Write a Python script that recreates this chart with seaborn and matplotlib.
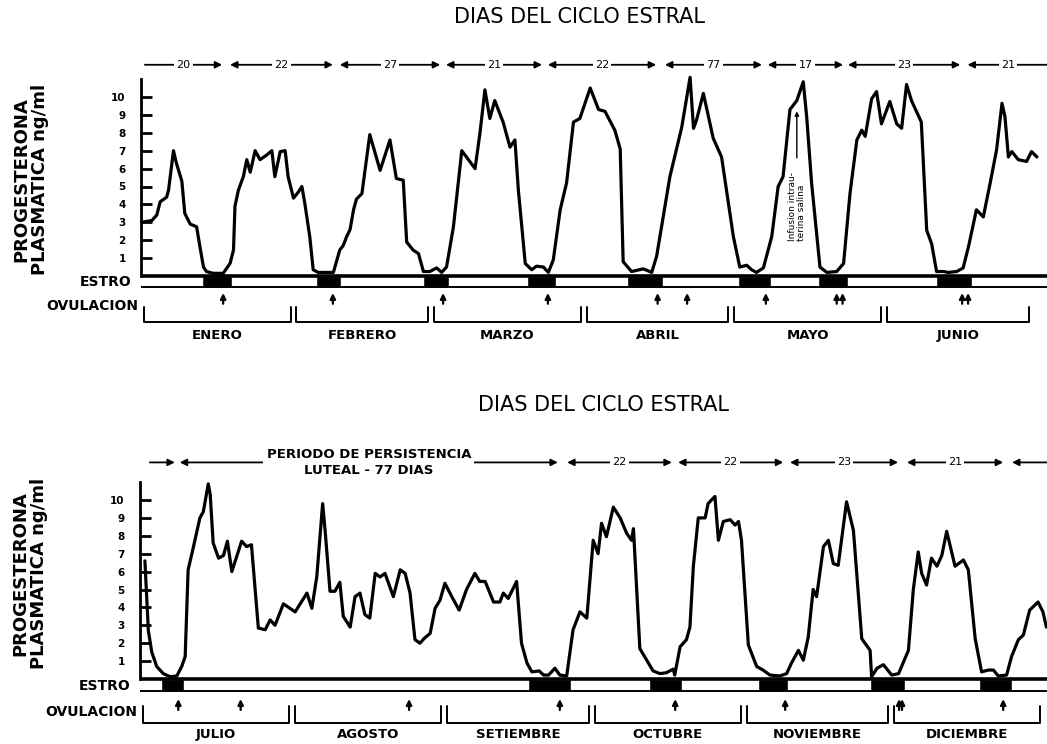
import numpy as np
import pandas as pd
import matplotlib
matplotlib.use("Agg")
import matplotlib.pyplot as plt
import seaborn as sns

# ---------------- data (days counted from 1 Jan / 1 Jul) ----------------
top_days = [0.1, 2.2, 3.2, 3.9, 5.2, 5.6, 6.6, 7.2, 8.3, 8.9, 10.0, 11.3, 12.0, 12.7, 13.3, 14.7,
            16.7, 18.1, 18.8, 19.1, 19.8, 20.8, 21.5, 22.2, 23.2, 24.2, 25.5, 26.6, 27.2, 28.3,
            29.3, 29.9, 31.0, 32.0, 32.7, 33.3, 34.3, 35.0, 36.0, 39.1, 40.4, 41.1, 41.8, 42.5,
            43.2, 43.8, 44.9, 46.5, 48.6, 50.6, 51.9, 53.3, 54.0, 55.3, 56.4, 57.4, 58.7, 60.1,
            61.1, 62.1, 63.5, 65.2, 67.9, 68.9, 69.9, 70.9, 71.9, 73.6, 75.0, 76.0, 76.7, 78.1,
            79.4, 80.4, 81.8, 82.8, 83.8, 85.2, 86.5, 87.9, 89.2, 91.3, 93.0, 94.3, 96.3, 97.4,
            98.0, 99.7, 102.1, 103.8, 104.8, 107.5, 109.9, 111.6, 112.3, 112.9, 114.3, 116.3,
            118.0, 119.0, 120.4, 121.7, 123.1, 124.1, 125.1, 126.5, 128.2, 129.5, 130.5, 131.9,
            133.3, 134.6, 135.3, 136.3, 138.0, 139.4, 141.4, 142.8, 144.1, 145.5, 146.5, 147.2,
            148.5, 149.5, 150.5, 152.2, 153.6, 154.6, 155.6, 156.6, 158.6, 159.7, 160.7, 161.7,
            163.1, 164.1, 165.8, 167.1, 168.2, 169.8, 171.2, 172.6, 173.9, 175.0, 175.6, 176.3,
            177.0, 178.3, 180.0, 181.0, 182.1]
top_prog = [3.0, 3.1, 3.4, 4.15, 4.4, 4.8, 7.0, 6.3, 5.3, 3.5, 2.9, 2.75, 1.6, 0.5, 0.25, 0.15,
            0.15, 0.7, 1.45, 3.9, 4.8, 5.55, 6.5, 5.8, 7.0, 6.5, 6.75, 7.0, 5.55, 6.95,
            7.0, 5.55, 4.35, 4.7, 5.0, 4.05, 2.2, 0.35, 0.2, 0.2, 1.45, 1.7, 2.2, 2.6,
            3.7, 4.3, 4.6, 7.9, 5.9, 7.6, 5.45, 5.35, 1.9, 1.45, 1.25, 0.25, 0.25, 0.45,
            0.2, 0.5, 2.75, 7.0, 6.0, 8.0, 10.4, 8.8, 9.8, 8.6, 7.2, 7.6, 4.8, 0.7,
            0.35, 0.55, 0.5, 0.2, 0.9, 3.7, 5.2, 8.6, 8.8, 10.5, 9.3, 9.2, 8.15, 7.1,
            0.8, 0.25, 0.4, 0.2, 1.1, 5.55, 8.3, 11.1, 8.25, 8.7, 10.2, 7.7,
            6.65, 4.8, 2.2, 0.5, 0.6, 0.35, 0.2, 0.45, 2.2, 5.0, 5.55, 9.3,
            9.8, 10.85, 8.9, 5.2, 0.5, 0.2, 0.25, 0.7, 4.6, 7.6, 8.15, 7.8,
            9.9, 10.3, 8.5, 9.75, 8.5, 8.25, 10.7, 9.8, 8.6, 2.55, 1.8, 0.25,
            0.25, 0.2, 0.25, 0.45, 1.65, 3.7, 3.3, 5.2, 7.05, 9.65, 8.9, 6.65,
            6.95, 6.5, 6.4, 6.95, 6.65]

bot_days = [1.0, 1.7, 2.4, 3.4, 4.75, 6.1, 7.5, 8.5, 9.2, 9.8, 10.9, 12.2, 12.9, 13.9, 14.3, 14.9,
            16.0, 17.0, 17.8, 18.7, 19.7, 20.7, 21.7, 22.7, 24.1, 25.5, 26.5, 27.5, 29.2, 31.6,
            34.0, 35.0, 36.0, 37.2, 37.7, 38.7, 39.7, 40.7, 41.4, 42.8, 43.8, 44.8, 45.8, 46.8,
            47.9, 48.9, 49.9, 51.6, 52.3, 53.0, 54.0, 55.0, 56.0, 57.0, 58.0, 59.1, 60.1, 61.1,
            62.1, 63.5, 65.0, 66.5, 68.2, 69.2, 70.3, 72.0, 73.3, 74.0, 75.0, 76.7, 77.7, 78.8,
            79.8, 81.3, 82.2, 83.2, 84.5, 85.5, 86.9, 88.2, 89.6, 91.0, 92.3, 93.3, 94.0, 95.0,
            96.4, 97.8, 99.1, 100.1, 100.5, 101.8, 103.2, 104.5, 105.9, 107.2, 108.6, 108.9,
            110.0, 111.3, 112.0, 112.7, 113.7, 115.1, 115.7, 117.1, 117.8, 118.8, 120.2, 121.2,
            121.9, 122.5, 123.9, 125.6, 126.9, 128.3, 130.3, 131.7, 132.7, 134.1, 135.1, 136.1,
            137.1, 137.8, 139.2, 140.2, 141.2, 142.2, 143.9, 145.3, 147.0, 148.7, 149.0, 150.1,
            151.4, 153.1, 154.5, 156.5, 157.5, 158.5, 159.2, 160.2, 161.2, 162.3, 163.3, 164.3,
            166.0, 167.7, 168.7, 170.1, 171.4, 172.8, 173.8, 174.8, 176.5, 177.5, 178.9, 179.9,
            181.2, 182.9, 183.9, 184.6]
bot_prog = [6.6, 2.7, 1.5, 0.7, 0.3, 0.13, 0.17, 0.7, 1.25, 6.1, 7.4, 9.0, 9.35, 10.9, 10.3, 7.6,
            6.75, 6.9, 7.7, 6.0, 6.85, 7.7, 7.4, 7.5, 2.85, 2.75, 3.3, 3.0, 4.2, 3.75,
            4.8, 3.95, 5.7, 9.8, 8.3, 4.9, 4.9, 5.4, 3.5, 2.9, 4.6, 4.8, 3.6, 3.4,
            5.9, 5.7, 5.9, 4.6, 5.35, 6.1, 5.9, 4.8, 2.2, 2.0, 2.3, 2.55, 3.95, 4.4,
            5.35, 4.6, 3.85, 5.0, 5.9, 5.45, 5.45, 4.3, 4.3, 4.8, 4.5, 5.45, 2.0, 0.9,
            0.4, 0.45, 0.22, 0.22, 0.6, 0.22, 0.17, 2.75, 3.75, 3.4, 7.75, 7.0, 8.7, 7.95,
            9.6, 9.0, 8.15, 7.75, 8.4, 1.7, 1.05, 0.45, 0.3, 0.35, 0.55, 0.22,
            1.8, 2.2, 2.9, 6.3, 9.0, 9.0, 9.8, 10.2, 7.75, 8.8, 8.9, 8.6,
            8.8, 7.75, 1.9, 0.7, 0.5, 0.22, 0.17, 0.3, 0.9, 1.6, 1.05, 2.35,
            5.0, 4.6, 7.4, 7.75, 6.45, 6.35, 9.9, 8.3, 2.25, 1.6, 0.13, 0.6,
            0.8, 0.22, 0.3, 1.6, 5.0, 7.1, 5.9, 5.25, 6.75, 6.3, 6.9, 8.25,
            6.3, 6.65, 6.1, 2.25, 0.4, 0.5, 0.5, 0.17, 0.22, 1.25, 2.2, 2.45,
            3.85, 4.3, 3.75, 2.9]

top_estro = [(12.4, 18.5), (35.6, 40.6), (57.3, 62.6), (78.5, 84.3), (98.8, 106.1),
             (121.3, 128.0), (137.6, 143.7), (161.6, 168.9)]
bot_estro = [(4.3, 9.0), (79.0, 87.8), (103.7, 110.4), (125.9, 132.0), (148.7, 155.8),
             (170.9, 177.6)]

top_ovul = [16.7, 39.0, 61.4, 82.7, 105.0, 111.0, 127.0, 141.4, 142.6, 166.9, 168.1]
bot_ovul = [7.8, 20.5, 54.8, 85.5, 109.0, 131.4, 154.6, 155.2, 175.8]

top_months = ["ENERO", "FEBRERO", "MARZO", "ABRIL", "MAYO", "JUNIO"]
top_month_len = [31, 28, 31, 30, 31, 30]
bot_months = ["JULIO", "AGOSTO", "SETIEMBRE", "OCTUBRE", "NOVIEMBRE", "DICIEMBRE"]
bot_month_len = [31, 31, 30, 31, 30, 31]

top_cycle_labels = ["20", "22", "27", "21", "22", "77", "17", "23", "21"]
top_cycle_start = [0.8, 18.1, 40.4, 62.0, 82.7, 106.5, 127.4, 143.7, 168.0]
top_cycle_end = [16.5, 39.0, 60.8, 81.5, 104.7, 126.2, 142.7, 166.5, 184.5]

bot_cycle_labels = ["", "PERIODO DE PERSISTENCIA\nLUTEAL - 77 DIAS", "22", "22", "23", "21", ""]
bot_cycle_start = [2.0, 8.1, 87.0, 109.6, 132.4, 156.2, 177.6]
bot_cycle_end = [7.1, 85.1, 108.3, 131.0, 154.4, 175.8, 185.0]

yticks = list(range(1, 11))
title = "DIAS DEL CICLO ESTRAL"
ylabel = "PROGESTERONA\nPLASMATICA ng/ml"
infusion_day = 133.3
infusion_text = "Infusion intrau-\nterina salina"

# ---------------- drawing ----------------
sns.set_style("white")
plt.rcParams["font.family"] = ["DejaVu Sans"]
plt.rcParams["text.color"] = "black"
plt.rcParams["axes.labelcolor"] = "black"
plt.rcParams["ytick.color"] = "black"
plt.rcParams["xtick.color"] = "black"

W, H = 1047, 744
fig = plt.figure(figsize=(W / 100, H / 100), dpi=100)
PXV = 17.9  # pixels per ng/ml


def panel(ax, days, prog, estro, ovul, months, mlen, c_lab, c_s, c_e,
          day0_px, pxd, base_px, ax_top_px, ax_bot_px, band, ov_y, br_y, lab_y, pos):
    ax.set_xlim(-day0_px / pxd, (W - day0_px) / pxd)
    ax.set_ylim(-(ax_bot_px - base_px) / PXV, (base_px - ax_top_px) / PXV)
    ax.patch.set_alpha(0)
    xmax = (W - day0_px) / pxd

    df = pd.DataFrame({"dia": days, "prog": prog})
    sns.lineplot(data=df, x="dia", y="prog", ax=ax, color="black", lw=2.3,
                 estimator=None, sort=False, legend=False)
    ax.set_xlabel("")
    ax.set_ylabel("")

    for s in ["top", "right", "bottom"]:
        ax.spines[s].set_visible(False)
    ax.spines["left"].set_position(("data", 0))
    ax.spines["left"].set_bounds(0, 11)
    ax.spines["left"].set_linewidth(2)
    ax.spines["left"].set_color("black")
    ax.set_xticks([])
    ax.set_yticks(yticks)
    ax.tick_params(axis="y", direction="in", length=8, width=2, labelsize=7.5, pad=11,
                   colors="black", labelcolor="black", left=True)
    for t in ax.get_yticklabels():
        t.set_fontweight("bold")

    # estro band
    ax.plot([0, xmax], [0, 0], color="black", lw=2.6, solid_capstyle="butt")
    ax.plot([0, xmax], [-band, -band], color="black", lw=1.4, solid_capstyle="butt")
    ax.broken_barh([(s, e - s) for s, e in estro], (-band, band), facecolors="black")
    ax.text(-2.0, -band / 2 - 0.05, "ESTRO", ha="right", va="center", fontsize=10,
            fontweight="bold", color="black")
    ax.text(-0.6, ov_y[1] - 0.1, "OVULACION", ha="right", va="center", fontsize=10,
            fontweight="bold", color="black")

    # ovulation arrows
    for d in ovul:
        ax.annotate("", xy=(d, ov_y[0]), xytext=(d, ov_y[1]),
                    arrowprops=dict(arrowstyle="-|>", lw=1.6, color="black",
                                    mutation_scale=8, shrinkA=0, shrinkB=0))

    # month brackets
    start = 0
    for name, L in zip(months, mlen):
        x0, x1 = start + 0.6, start + L - 0.6
        ax.plot([x0, x0, x1, x1], [br_y[0], br_y[1], br_y[1], br_y[0]], color="black", lw=1.4)
        ax.text((x0 + x1) / 2, lab_y, name, ha="center", va="center", fontsize=9.5,
                fontweight="bold", color="black")
        start += L

    # cycle length arrows
    n = len(c_lab)
    for i, (lab, s, e) in enumerate(zip(c_lab, c_s, c_e)):
        if i == 0:
            style = "-|>"
        elif i == n - 1:
            style = "<|-"
        else:
            style = "<|-|>"
        ax.annotate("", xy=(e, pos[2]), xytext=(s, pos[2]),
                    arrowprops=dict(arrowstyle=style, lw=1.3, color="black",
                                    mutation_scale=10, shrinkA=0, shrinkB=0),
                    annotation_clip=False)
        if lab:
            big = "\n" in lab
            ax.text((s + e) / 2, pos[2], lab, ha="center",
                    va="center", fontsize=9.5 if big else 8, fontweight="bold" if big else "normal",
                    linespacing=1.25, color="black",
                    bbox=dict(facecolor="white", edgecolor="none", pad=2.5 if big else 1.5))

    # y label
    ax.text(pos[0], pos[1], ylabel, rotation=90, ha="center", va="center", color="black",
            fontsize=13, fontweight="bold", linespacing=1.05, multialignment="center")


ax_top = fig.add_axes([0, 0.5, 1, 0.5])
panel(ax_top, top_days, top_prog, top_estro, top_ovul, top_months, top_month_len,
      top_cycle_labels, top_cycle_start, top_cycle_end,
      day0_px=141, pxd=4.92, base_px=276, ax_top_px=0, ax_bot_px=372, band=0.61,
      ov_y=(-0.95, -1.55), br_y=(-1.73, -2.57), lab_y=-3.3,
      pos=(-22.5, 5.4, 11.8))

ax_bot = fig.add_axes([0, 0, 1, 0.5])
panel(ax_bot, bot_days, bot_prog, bot_estro, bot_ovul, bot_months, bot_month_len,
      bot_cycle_labels, bot_cycle_start, bot_cycle_end,
      day0_px=140, pxd=4.91, base_px=679, ax_top_px=372, ax_bot_px=744, band=0.67,
      ov_y=(-1.12, -1.73), br_y=(-1.5, -2.46), lab_y=-3.1,
      pos=(-22.5, 5.9, 12.1))

# infusion annotation (top panel)
ax_top.annotate("", xy=(infusion_day, 9.2), xytext=(infusion_day, 6.6),
                arrowprops=dict(arrowstyle="-|>", lw=1.0, color="black", mutation_scale=6,
                                shrinkA=0, shrinkB=0))
ax_top.text(infusion_day, 3.9, infusion_text, rotation=90, ha="center", va="center",
            fontsize=6.5, linespacing=1.0, multialignment="left", color="black")

fig.text(580 / W, 1 - 17 / H, title, ha="center", va="center", fontsize=15, color="black")
fig.text(604 / W, 1 - 405 / H, title, ha="center", va="center", fontsize=15, color="black")

fig.savefig("out.png", dpi=100, facecolor="white")
